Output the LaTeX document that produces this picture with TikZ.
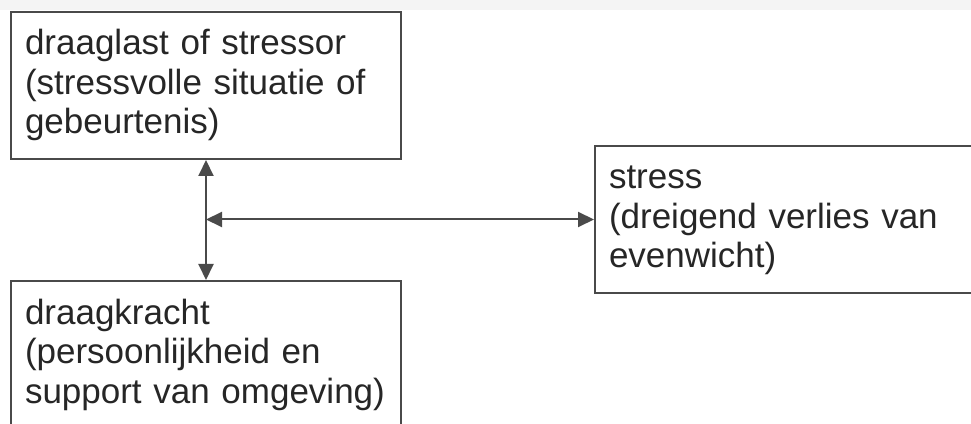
\documentclass[tikz,border=0pt]{standalone}
\usepackage{fontspec}
\setmainfont{Liberation Sans}
\usetikzlibrary{arrows.meta,calc}
\definecolor{linegray}{HTML}{4A4A4A}
\definecolor{textgray}{HTML}{262626}
\definecolor{bandgray}{HTML}{F4F4F4}
\tikzset{
  box/.style={draw=linegray, line width=2pt, rectangle, anchor=north west,
    align=left, text=textgray, inner xsep=14pt, inner ysep=13pt,
    text height=30pt, text depth=91pt,
    font=\fontsize{35}{39.5}\selectfont},
  link/.style={draw=linegray, line width=2pt,
    {Triangle[length=16pt,width=15pt]}-{Triangle[length=16pt,width=15pt]}}
}
\begin{document}
\begin{tikzpicture}[x=1pt,y=1pt]
\useasboundingbox (0,0) rectangle (971,423);
\clip (0,0) rectangle (971,423);
\fill[bandgray] (0,413) rectangle (971,423);
\node[box, text width=362pt] (load) at (10,412)
  {draaglast of stressor\\(stressvolle situatie of\\gebeurtenis)};
\node[box, text width=362pt] (capacity) at (10,143)
  {draagkracht\\(persoonlijkheid en\\support van omgeving)};
\node[box, text width=420pt] (stress) at (594,278)
  {stress\\(dreigend verlies van\\evenwicht)};
\draw[link] (load.south) -- (capacity.north);
\coordinate (junction) at (stress.west -| load.south);
\draw[link] (junction) -- (stress.west);
\end{tikzpicture}
\end{document}
